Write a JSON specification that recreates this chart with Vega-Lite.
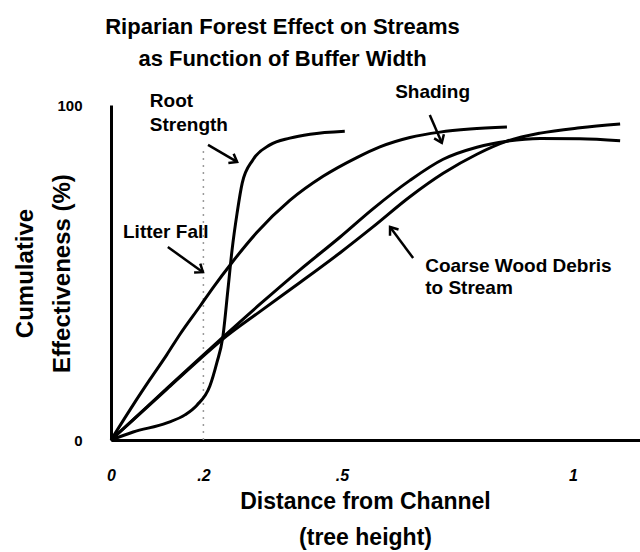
{
  "$schema": "https://vega.github.io/schema/vega-lite/v6.json",
  "width": 529,
  "height": 335,
  "autosize": {"type": "none"},
  "padding": {"left": 111, "top": 105, "right": 0, "bottom": 112},
  "background": "white",
  "config": {
    "view": {"stroke": null},
    "font": "Liberation Sans",
    "axis": {"grid": false, "ticks": false, "domainColor": "black", "domainWidth": 3, "labelColor": "black", "titleColor": "black"}
  },
  "title": {
    "text": ["Riparian Forest Effect on Streams", "as Function of Buffer Width"],
    "font": "Liberation Sans",
    "fontSize": 22,
    "fontWeight": "bold",
    "color": "black",
    "lineHeight": 32,
    "anchor": "middle",
    "dx": -93,
    "offset": 12
  },
  "datasets": {
    "curves": [
      {"series": "Root Strength", "x": 0, "y": 0},
      {"series": "Root Strength", "x": 0.048, "y": 2.4},
      {"series": "Root Strength", "x": 0.121, "y": 5.1},
      {"series": "Root Strength", "x": 0.16, "y": 7.5},
      {"series": "Root Strength", "x": 0.186, "y": 10.4},
      {"series": "Root Strength", "x": 0.214, "y": 16.1},
      {"series": "Root Strength", "x": 0.229, "y": 23.0},
      {"series": "Root Strength", "x": 0.242, "y": 30.7},
      {"series": "Root Strength", "x": 0.253, "y": 44.8},
      {"series": "Root Strength", "x": 0.262, "y": 56.7},
      {"series": "Root Strength", "x": 0.273, "y": 67.8},
      {"series": "Root Strength", "x": 0.284, "y": 76.7},
      {"series": "Root Strength", "x": 0.307, "y": 83.6},
      {"series": "Root Strength", "x": 0.344, "y": 88.1},
      {"series": "Root Strength", "x": 0.387, "y": 90.1},
      {"series": "Root Strength", "x": 0.431, "y": 91.3},
      {"series": "Root Strength", "x": 0.506, "y": 92.2},
      {"series": "Litter Fall", "x": 0, "y": 0},
      {"series": "Litter Fall", "x": 0.048, "y": 10.5},
      {"series": "Litter Fall", "x": 0.084, "y": 18.0},
      {"series": "Litter Fall", "x": 0.121, "y": 25.5},
      {"series": "Litter Fall", "x": 0.149, "y": 31.5},
      {"series": "Litter Fall", "x": 0.193, "y": 40.0},
      {"series": "Litter Fall", "x": 0.221, "y": 45.5},
      {"series": "Litter Fall", "x": 0.262, "y": 53.0},
      {"series": "Litter Fall", "x": 0.316, "y": 62.0},
      {"series": "Litter Fall", "x": 0.387, "y": 71.5},
      {"series": "Litter Fall", "x": 0.459, "y": 78.7},
      {"series": "Litter Fall", "x": 0.532, "y": 84.3},
      {"series": "Litter Fall", "x": 0.582, "y": 87.5},
      {"series": "Litter Fall", "x": 0.647, "y": 90.3},
      {"series": "Litter Fall", "x": 0.712, "y": 91.9},
      {"series": "Litter Fall", "x": 0.777, "y": 92.8},
      {"series": "Litter Fall", "x": 0.857, "y": 93.4},
      {"series": "Shading", "x": 0, "y": 0},
      {"series": "Shading", "x": 0.048, "y": 6.1},
      {"series": "Shading", "x": 0.121, "y": 15.4},
      {"series": "Shading", "x": 0.193, "y": 24.5},
      {"series": "Shading", "x": 0.24, "y": 30.4},
      {"series": "Shading", "x": 0.323, "y": 40.6},
      {"series": "Shading", "x": 0.409, "y": 50.8},
      {"series": "Shading", "x": 0.496, "y": 60.6},
      {"series": "Shading", "x": 0.567, "y": 69.0},
      {"series": "Shading", "x": 0.647, "y": 77.5},
      {"series": "Shading", "x": 0.719, "y": 83.8},
      {"series": "Shading", "x": 0.792, "y": 87.4},
      {"series": "Shading", "x": 0.857, "y": 89.2},
      {"series": "Shading", "x": 0.929, "y": 90.0},
      {"series": "Shading", "x": 1.015, "y": 89.9},
      {"series": "Shading", "x": 1.102, "y": 89.3},
      {"series": "Coarse Wood Debris", "x": 0, "y": 0},
      {"series": "Coarse Wood Debris", "x": 0.048, "y": 6.0},
      {"series": "Coarse Wood Debris", "x": 0.121, "y": 15.2},
      {"series": "Coarse Wood Debris", "x": 0.193, "y": 24.2},
      {"series": "Coarse Wood Debris", "x": 0.24, "y": 29.9},
      {"series": "Coarse Wood Debris", "x": 0.323, "y": 38.4},
      {"series": "Coarse Wood Debris", "x": 0.409, "y": 47.0},
      {"series": "Coarse Wood Debris", "x": 0.496, "y": 55.9},
      {"series": "Coarse Wood Debris", "x": 0.567, "y": 63.6},
      {"series": "Coarse Wood Debris", "x": 0.647, "y": 72.6},
      {"series": "Coarse Wood Debris", "x": 0.719, "y": 79.6},
      {"series": "Coarse Wood Debris", "x": 0.792, "y": 85.3},
      {"series": "Coarse Wood Debris", "x": 0.857, "y": 89.2},
      {"series": "Coarse Wood Debris", "x": 0.929, "y": 91.6},
      {"series": "Coarse Wood Debris", "x": 1.015, "y": 93.2},
      {"series": "Coarse Wood Debris", "x": 1.102, "y": 94.3}
    ],
    "labels": [
      {"text": "Root", "x": 0.084, "y": 101.2},
      {"text": "Strength", "x": 0.084, "y": 94.0},
      {"text": "Litter Fall", "x": 0.026, "y": 62.1},
      {"text": "Shading", "x": 0.615, "y": 103.9},
      {"text": "Coarse Wood Debris", "x": 0.68, "y": 51.9},
      {"text": "to Stream", "x": 0.68, "y": 45.4}
    ],
    "arrows": [
      {"name": "Root Strength", "x": 0.21, "y": 88.1, "x2": 0.273, "y2": 83.0, "dir": 30},
      {"name": "Litter Fall", "x": 0.123, "y": 57.6, "x2": 0.199, "y2": 50.1, "dir": 35.5},
      {"name": "Shading", "x": 0.69, "y": 97.0, "x2": 0.716, "y2": 88.7, "dir": 66.8},
      {"name": "Coarse Wood Debris", "x": 0.654, "y": 54.3, "x2": 0.604, "y2": 63.6, "dir": 233.4}
    ],
    "guide": [
      {"x": 0.2, "y": 0, "y2": 86.6}
    ]
  },
  "layer": [
    {
      "data": {"name": "guide"},
      "mark": {"type": "rule", "color": "#9a9a9a", "strokeWidth": 1.5, "strokeDash": [2, 5]},
      "encoding": {
        "x": {"field": "x", "type": "quantitative", "scale": {"domain": [0, 1.145], "nice": false, "zero": false},
          "axis": {"values": [0, 0.2, 0.5, 1], "labelExpr": "datum.value == 0 ? '0' : datum.value == 0.2 ? '.2' : datum.value == 0.5 ? '.5' : '1'",
            "labelFont": "Liberation Sans", "labelFontSize": 16, "labelFontWeight": "bold", "labelFontStyle": "italic", "labelPadding": 27, "labelBaseline": "top",
            "title": ["Distance from Channel", "(tree height)"], "titleFont": "Liberation Sans", "titleFontSize": 23, "titleFontWeight": "bold",
            "titleX": 254, "titleY": 61, "titleBaseline": "middle", "titleAlign": "center", "titleLineHeight": 36, "labelFlush": false, "labelOverlap": false}},
        "y": {"field": "y", "type": "quantitative", "scale": {"domain": [0, 100], "nice": false},
          "axis": {"values": [0, 100], "labelFont": "Liberation Sans", "labelFontSize": 15, "labelFontWeight": "bold", "labelPadding": 29,
            "title": ["Cumulative", "Effectiveness (%)"], "titleFont": "Liberation Sans", "titleFontSize": 24, "titleFontWeight": "bold",
            "titleX": -86, "titleY": 168, "titleAngle": -90, "titleBaseline": "middle", "titleAlign": "center", "titleLineHeight": 37, "labelFlush": false}},
        "y2": {"field": "y2"}
      }
    },
    {
      "data": {"name": "curves"},
      "mark": {"type": "line", "color": "black", "strokeWidth": 3, "interpolate": "monotone", "clip": false},
      "encoding": {
        "x": {"field": "x", "type": "quantitative"},
        "y": {"field": "y", "type": "quantitative"},
        "detail": {"field": "series"}
      }
    },
    {
      "data": {"name": "arrows"},
      "mark": {"type": "rule", "color": "black", "strokeWidth": 2.5},
      "encoding": {
        "x": {"field": "x", "type": "quantitative"},
        "y": {"field": "y", "type": "quantitative"},
        "x2": {"field": "x2"},
        "y2": {"field": "y2"}
      }
    },
    {
      "data": {"name": "arrows"},
      "mark": {"type": "point", "shape": "M-1,-0.75L0,0L-1,0.75", "filled": false, "stroke": "black", "strokeWidth": 2.5, "size": 200, "opacity": 1},
      "encoding": {
        "x": {"field": "x2", "type": "quantitative"},
        "y": {"field": "y2", "type": "quantitative"},
        "angle": {"field": "dir", "type": "quantitative", "scale": null}
      }
    },
    {
      "data": {"name": "labels"},
      "mark": {"type": "text", "align": "left", "baseline": "middle", "font": "Liberation Sans", "fontSize": 19, "fontWeight": "bold", "color": "black", "clip": false},
      "encoding": {
        "x": {"field": "x", "type": "quantitative"},
        "y": {"field": "y", "type": "quantitative"},
        "text": {"field": "text"}
      }
    }
  ]
}
